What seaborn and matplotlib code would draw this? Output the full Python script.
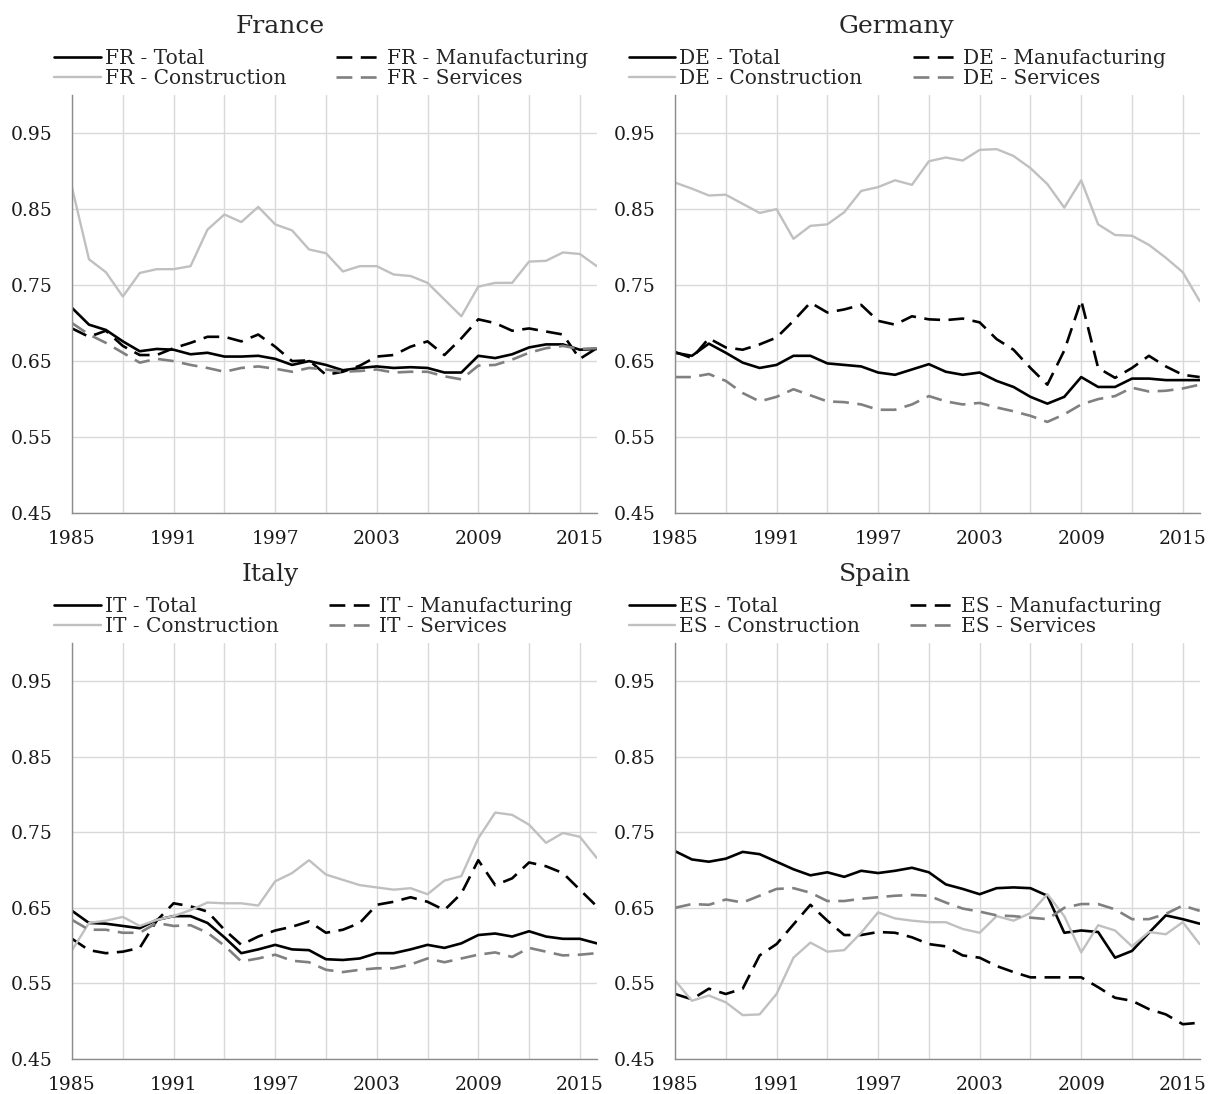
import pandas as pd
import seaborn as sns
import matplotlib.pyplot as plt

years = list(range(1985, 2017))

# France
fr_total = [0.720, 0.698, 0.691, 0.676, 0.663, 0.666, 0.665, 0.659, 0.661, 0.656, 0.656, 0.657, 0.653, 0.645, 0.650, 0.645,
            0.638, 0.641, 0.643, 0.641, 0.642, 0.641, 0.635, 0.635, 0.657, 0.654, 0.659, 0.668, 0.672, 0.672, 0.665, 0.666]
fr_manuf = [0.693, 0.682, 0.690, 0.670, 0.658, 0.658, 0.667, 0.674, 0.682, 0.682, 0.676, 0.685, 0.669, 0.650, 0.651, 0.632,
            0.636, 0.644, 0.656, 0.658, 0.669, 0.676, 0.658, 0.680, 0.705, 0.700, 0.690, 0.693, 0.689, 0.685, 0.653, 0.667]
fr_constr = [0.878, 0.784, 0.767, 0.735, 0.766, 0.771, 0.771, 0.775, 0.823, 0.843, 0.833, 0.853, 0.830, 0.822, 0.797, 0.792,
             0.768, 0.775, 0.775, 0.764, 0.762, 0.753, 0.731, 0.709, 0.748, 0.753, 0.753, 0.781, 0.782, 0.793, 0.791, 0.775]
fr_serv = [0.700, 0.685, 0.674, 0.661, 0.648, 0.653, 0.650, 0.645, 0.641, 0.636, 0.641, 0.643, 0.640, 0.636, 0.641, 0.639,
           0.636, 0.637, 0.639, 0.635, 0.636, 0.636, 0.630, 0.626, 0.644, 0.645, 0.652, 0.661, 0.667, 0.670, 0.666, 0.667]

# Germany
de_total = [0.661, 0.657, 0.673, 0.661, 0.648, 0.641, 0.645, 0.657, 0.657, 0.647, 0.645, 0.643, 0.635, 0.632, 0.639, 0.646,
            0.636, 0.632, 0.635, 0.624, 0.616, 0.603, 0.594, 0.603, 0.629, 0.616, 0.616, 0.627, 0.627, 0.625, 0.625, 0.625]
de_manuf = [0.662, 0.654, 0.680, 0.668, 0.665, 0.672, 0.681, 0.703, 0.727, 0.714, 0.718, 0.724, 0.703, 0.698, 0.709, 0.705,
            0.704, 0.706, 0.701, 0.679, 0.665, 0.641, 0.619, 0.664, 0.730, 0.641, 0.628, 0.641, 0.657, 0.643, 0.632, 0.629]
de_constr = [0.885, 0.877, 0.868, 0.869, 0.857, 0.845, 0.850, 0.811, 0.828, 0.830, 0.846, 0.874, 0.879, 0.888, 0.882, 0.913,
             0.918, 0.914, 0.928, 0.929, 0.920, 0.904, 0.883, 0.852, 0.888, 0.830, 0.816, 0.815, 0.803, 0.786, 0.767, 0.729]
de_serv = [0.629, 0.629, 0.633, 0.624, 0.608, 0.597, 0.603, 0.613, 0.605, 0.597, 0.596, 0.593, 0.586, 0.586, 0.593, 0.604,
           0.597, 0.593, 0.595, 0.589, 0.584, 0.578, 0.570, 0.580, 0.593, 0.600, 0.604, 0.615, 0.610, 0.611, 0.614, 0.619]

# Italy
it_total = [0.646, 0.630, 0.629, 0.626, 0.623, 0.634, 0.639, 0.639, 0.630, 0.611, 0.590, 0.595, 0.601, 0.595, 0.594, 0.582,
            0.581, 0.583, 0.590, 0.590, 0.595, 0.601, 0.597, 0.603, 0.614, 0.616, 0.612, 0.619, 0.612, 0.609, 0.609, 0.603]
it_manuf = [0.609, 0.594, 0.590, 0.592, 0.597, 0.633, 0.656, 0.652, 0.645, 0.621, 0.601, 0.612, 0.620, 0.625, 0.632, 0.617,
            0.621, 0.630, 0.654, 0.658, 0.664, 0.658, 0.647, 0.669, 0.713, 0.680, 0.689, 0.710, 0.705, 0.696, 0.674, 0.652]
it_constr = [0.594, 0.630, 0.633, 0.638, 0.626, 0.634, 0.639, 0.647, 0.657, 0.656, 0.656, 0.653, 0.685, 0.696, 0.713, 0.694,
             0.687, 0.680, 0.677, 0.674, 0.676, 0.668, 0.686, 0.692, 0.742, 0.776, 0.773, 0.760, 0.736, 0.749, 0.744, 0.716]
it_serv = [0.634, 0.621, 0.621, 0.617, 0.617, 0.630, 0.626, 0.627, 0.617, 0.600, 0.579, 0.583, 0.588, 0.580, 0.578, 0.568,
           0.565, 0.568, 0.570, 0.570, 0.575, 0.583, 0.578, 0.583, 0.588, 0.591, 0.585, 0.597, 0.592, 0.587, 0.588, 0.590]

# Spain
es_total = [0.725, 0.714, 0.711, 0.715, 0.724, 0.721, 0.711, 0.701, 0.693, 0.697, 0.691, 0.699, 0.696, 0.699, 0.703, 0.697,
            0.681, 0.675, 0.668, 0.676, 0.677, 0.676, 0.666, 0.617, 0.620, 0.618, 0.584, 0.593, 0.617, 0.640, 0.635, 0.629]
es_manuf = [0.536, 0.529, 0.543, 0.536, 0.543, 0.587, 0.602, 0.628, 0.654, 0.633, 0.614, 0.614, 0.618, 0.617, 0.611, 0.602,
            0.599, 0.587, 0.584, 0.573, 0.565, 0.558, 0.558, 0.558, 0.558, 0.545, 0.531, 0.527, 0.516, 0.509, 0.496, 0.498]
es_constr = [0.554, 0.527, 0.534, 0.525, 0.508, 0.509, 0.536, 0.584, 0.604, 0.592, 0.594, 0.617, 0.644, 0.636, 0.633, 0.631,
             0.631, 0.622, 0.617, 0.639, 0.633, 0.643, 0.668, 0.639, 0.591, 0.627, 0.620, 0.599, 0.618, 0.615, 0.631, 0.602]
es_serv = [0.650, 0.655, 0.654, 0.661, 0.657, 0.666, 0.675, 0.676, 0.670, 0.659, 0.659, 0.662, 0.664, 0.666, 0.667, 0.666,
           0.657, 0.649, 0.645, 0.640, 0.639, 0.637, 0.635, 0.650, 0.655, 0.655, 0.648, 0.635, 0.635, 0.642, 0.653, 0.646]

sectors = ['Total', 'Manufacturing', 'Construction', 'Services']
y_ticks = [0.45, 0.55, 0.65, 0.75, 0.85, 0.95]

sns.set_style('white')
plt.rcParams['font.family'] = ['DejaVu Serif']

# colour, dash, width per sector
styles = {
    'Total': ('#000000', '-', 1.9),
    'Manufacturing': ('#000000', (0, (6.0, 3.2)), 1.9),
    'Construction': ('#c0c0c0', '-', 1.7),
    'Services': ('#808080', (0, (6.0, 3.2)), 1.9),
}

panels = [
    ('France', 'FR', [fr_total, fr_manuf, fr_constr, fr_serv], [0.0596, 0.531, 0.434, 0.382], 0.396, -0.034),
    ('Germany', 'DE', [de_total, de_manuf, de_constr, de_serv], [0.5583, 0.531, 0.434, 0.382], 0.423, -0.088),
    ('Italy', 'IT', [it_total, it_manuf, it_constr, it_serv], [0.0596, 0.032, 0.434, 0.380], 0.377, -0.034),
    ('Spain', 'ES', [es_total, es_manuf, es_constr, es_serv], [0.5583, 0.032, 0.434, 0.380], 0.381, -0.088),
]

fig = plt.figure(figsize=(12.09, 10.94), dpi=100)

for name, code, series, rect, title_x, leg_x in panels:
    ax = fig.add_axes(rect)
    for sector, vals in zip(sectors, series):
        color, ls, lw = styles[sector]
        sns.lineplot(x=years, y=vals, ax=ax, color=color, linestyle=ls, linewidth=lw,
                     label=f'{code} - {sector}')

    ax.set_xlim(1985, 2016)
    ax.set_ylim(0.45, 1.0)
    ax.set_yticks(y_ticks)
    ax.set_yticklabels([f'{t:.2f}' for t in y_ticks])
    xt = list(range(1985, 2017, 3))
    ax.set_xticks(xt)
    ax.set_xticklabels([str(t) if (t - 1985) % 6 == 0 else '' for t in xt])
    ax.grid(True, color='#d9d9d9', linewidth=1.0)
    ax.set_axisbelow(True)
    ax.tick_params(axis='both', length=0, labelsize=13.5, colors='#1a1a1a')
    ax.tick_params(axis='y', pad=14)
    ax.tick_params(axis='x', pad=12)
    for side in ['top', 'right']:
        ax.spines[side].set_visible(False)
    for side in ['left', 'bottom']:
        ax.spines[side].set_color('#8c8c8c')
        ax.spines[side].set_linewidth(1.0)
    ax.set_xlabel('')
    ax.set_ylabel('')
    ax.set_title(name, fontsize=18, x=title_x, pad=45)

    # legend in two columns, ordered row-wise like the original
    handles, labels = ax.get_legend_handles_labels()
    order = [0, 2, 1, 3]
    ax.legend([handles[i] for i in order], [labels[i] for i in order], ncol=2, loc='lower left',
              bbox_to_anchor=(leg_x, 1.017), frameon=False, fontsize=14.5, handlelength=2.3,
              handletextpad=0.2, columnspacing=2.5, borderpad=0, labelspacing=0.05, borderaxespad=0)

fig.savefig('out.png', dpi=100)
